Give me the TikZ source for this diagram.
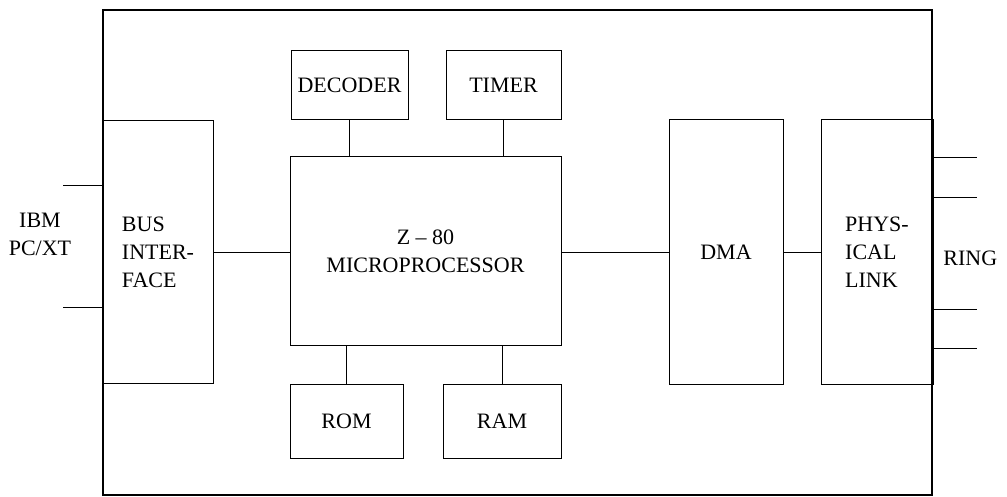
\documentclass[tikz,border=0pt]{standalone}
\usepackage{fontspec}
\setmainfont{Liberation Serif}
\usetikzlibrary{positioning}
\tikzstyle{block}=[draw,fill=white,rectangle,inner sep=0pt,line width=0.5pt]
\tikzstyle{board}=[draw,rectangle,inner sep=0pt,line width=1.3pt]
\tikzstyle{every node}=[font=\fontsize{11}{14}\selectfont]

\begin{document}
\begin{tikzpicture}[auto,x=0.5pt,y=-0.5pt]
    \useasboundingbox (0,0) rectangle (1007,497);

    \node[block, align=left, minimum width=55pt, minimum height=131.5pt] (bus) at (158,252) {BUS\\INTER-\\FACE};
    \node[block, align=center, minimum width=135.5pt, minimum height=94.5pt] (cpu) at (425.5,251.5) {Z -- 80\\MICROPROCESSOR};
    \node[block, minimum width=58.5pt, minimum height=34.5pt] (decoder) at (349.5,85.5) {DECODER};
    \node[block, minimum width=57.5pt, minimum height=34.5pt] (timer) at (503.5,85.5) {TIMER};
    \node[block, minimum width=56.5pt, minimum height=37pt] (rom) at (346.5,421) {ROM};
    \node[block, minimum width=59pt, minimum height=37pt] (ram) at (502,421) {RAM};
    \node[block, minimum width=57pt, minimum height=132pt] (dma) at (726,252) {DMA};
    \node[block, align=left, minimum width=56pt, minimum height=132pt] (phys) at (877,252) {PHYS-\\ICAL\\LINK};

    \draw (decoder.south) -- (decoder.south |- cpu.north);
    \draw (timer.south) -- (timer.south |- cpu.north);
    \draw (rom.north) -- (rom.north |- cpu.south);
    \draw (ram.north) -- (ram.north |- cpu.south);
    \draw (bus.east) -- (bus.east -| cpu.west);
    \draw (dma.west -| cpu.east) -- (dma.west);
    \draw (dma.east) -- (phys.west);

    % host side
    \node[align=center] (host) at (40,234) {IBM\\PC/XT};
    \coordinate (pc1) at (63,185);
    \coordinate (pc2) at (63,307);
    \draw (pc1) -- (pc1 -| bus.west);
    \draw (pc2) -- (pc2 -| bus.west);

    % ring side
    \node[anchor=west, inner sep=0pt] (ring) at (943,258) {RING};
    \foreach \y/\n in {157/1, 197/2, 309/3, 348/4} {
        \coordinate (r\n) at (977,\y);
        \draw (r\n -| phys.east) -- (r\n);
    }

    \node[board, minimum width=414.5pt, minimum height=242.5pt] (card) at (517.5,252.5) {};
\end{tikzpicture}
\end{document}
